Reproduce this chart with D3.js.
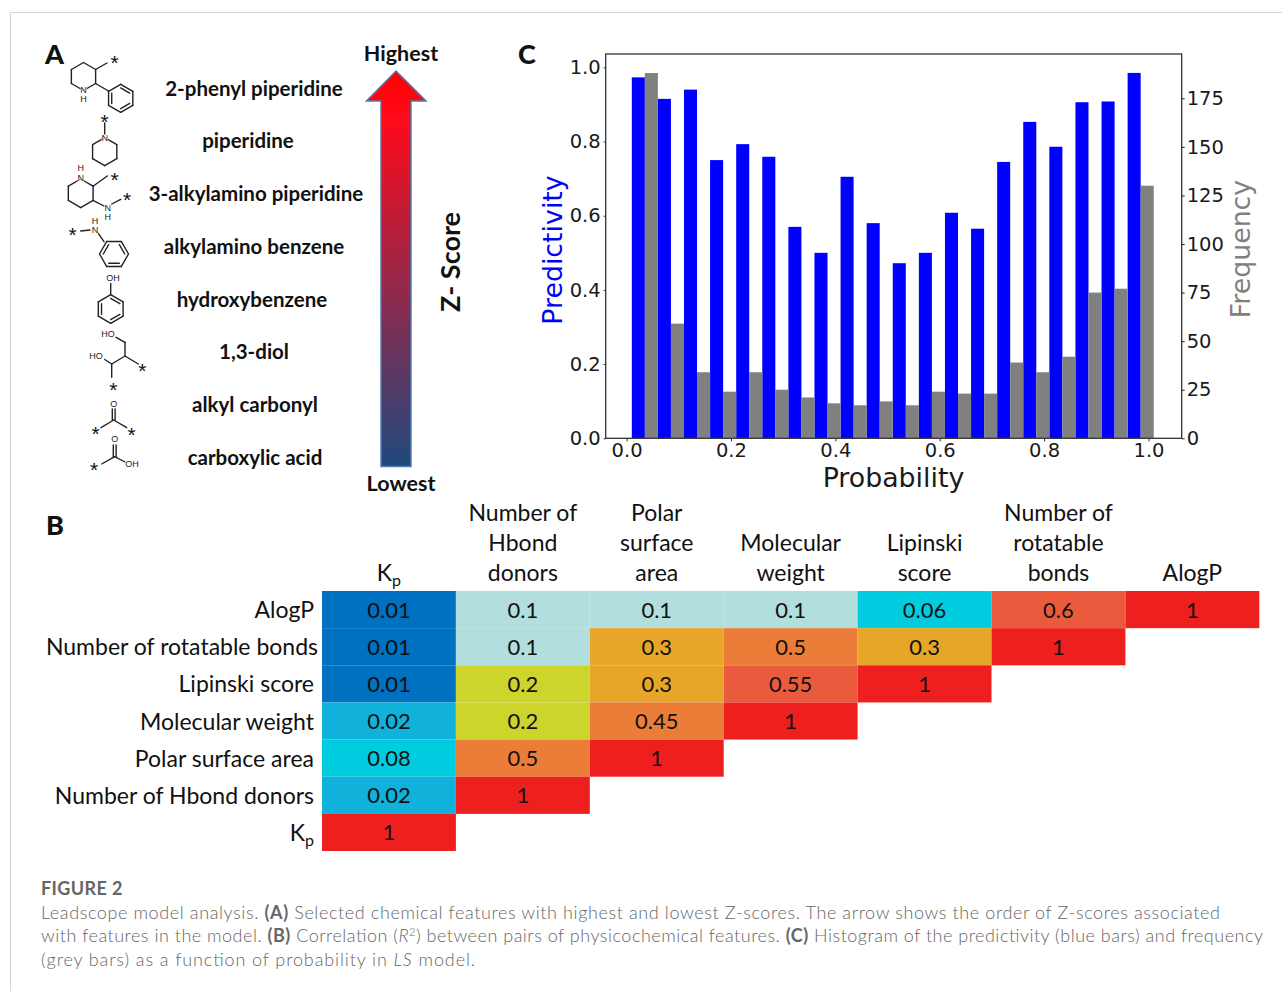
<!DOCTYPE html>
<html>
<head>
<meta charset="utf-8">
<script src="https://cdn.jsdelivr.net/npm/d3@7"></script>
<style>
  html, body { margin: 0; padding: 0; background: #fff; }
  svg { display: block; }
  .calibri { font-family: Lato, "Open Sans", sans-serif; fill: #111; }
  .mpl text { font-family: "DejaVu Sans", sans-serif; font-size: 19.5px; fill: #1a1a1a; }
  .mpl .domain { display: none; }
  .mpl line { stroke: #222; }
  .bond { fill: none; stroke: #222; stroke-width: 1.4; stroke-linecap: round; }
  .atom { font-family: "Liberation Sans", sans-serif; font-size: 9px; fill: #222; text-anchor: middle; dominant-baseline: central;
          paint-order: stroke; stroke: #fff; stroke-width: 1px; }
  .star { font-family: "Liberation Sans", sans-serif; font-size: 21px; fill: #111; text-anchor: middle; }
</style>
</head>
<body>
<script>
// ---- data ----

// panel A
var features = ["2-phenyl piperidine", "piperidine", "3-alkylamino piperidine", "alkylamino benzene",
    "hydroxybenzene", "1,3-diol", "alkyl carbonyl", "carboxylic acid"];
var featureShift = [0, -6, 2, 0, -2, 0, 1, 1];

// panel B, upper triangle, columns run Kp -> AlogP
var rowNames = ["AlogP", "Number of rotatable bonds", "Lipinski score", "Molecular weight",
    "Polar surface area", "Number of Hbond donors", "Kp"];
var colNames = [["Kp"], ["Number of", "Hbond", "donors"], ["Polar", "surface", "area"], ["Molecular", "weight"],
    ["Lipinski", "score"], ["Number of", "rotatable", "bonds"], ["AlogP"]];
var rowAlogP = ["0.01", "0.1", "0.1", "0.1", "0.06", "0.6", "1"];
var rowRotatable = ["0.01", "0.1", "0.3", "0.5", "0.3", "1"];
var rowLipinski = ["0.01", "0.2", "0.3", "0.55", "1"];
var rowWeight = ["0.02", "0.2", "0.45", "1"];
var rowPolar = ["0.08", "0.5", "1"];
var rowDonors = ["0.02", "1"];
var rowKp = ["1"];
var cellKeys = ["0.01", "0.02", "0.06", "0.08", "0.1", "0.2", "0.3", "0.45", "0.5", "0.55", "0.6", "1"];
var cellColors = ["#0070c0", "#10b2dc", "#00cce0", "#00cce0", "#b2dfde", "#cdd42c", "#e8a628", "#ec7d38", "#ec7d38", "#ea5b3d", "#ea5b3d", "#ee1f1f"];

// panel C
var binStart = [0.01, 0.06, 0.11, 0.16, 0.21, 0.26, 0.31, 0.36, 0.41, 0.46, 0.51, 0.56, 0.61, 0.66, 0.71, 0.76, 0.81, 0.86, 0.91, 0.96];
var predictivity = [0.973, 0.915, 0.94, 0.75, 0.793, 0.759, 0.57, 0.5, 0.705, 0.58, 0.472, 0.5, 0.608, 0.565, 0.745, 0.853, 0.786, 0.906, 0.908, 0.985];
var frequency = [188, 59, 34, 24, 34, 25, 21, 18, 17, 19, 17, 24, 23, 23, 39, 34, 42, 75, 77, 130];

var svg = d3.select("body").append("svg")
    .attr("width", 1282)
    .attr("height", 991);

// page frame
svg.append("path")
    .attr("d", "M10.5,991V12.5H1282")
    .attr("fill", "none")
    .attr("stroke", "#d4d4d4");

function panelLetter(t, x, y) {
    svg.append("text").attr("class", "calibri")
        .attr("x", x).attr("y", y)
        .attr("text-anchor", "middle")
        .style("font-size", "27px").style("font-weight", 900)
        .text(t);
}
panelLetter("A", 54.5, 64);
panelLetter("B", 55, 535);
panelLetter("C", 527, 64);

// ---- panel A ----

var featureY = d3.scalePoint().domain(features).range([87.5, 457]);

svg.selectAll(".feature")
    .data(features)
    .enter().append("text")
    .attr("class", "feature calibri")
    .attr("x", function(d, i) { return 254 + featureShift[i]; })
    .attr("y", function(d) { return featureY(d); })
    .attr("text-anchor", "middle")
    .attr("dominant-baseline", "central")
    .style("font-size", "20.5px")
    .style("font-weight", 700)
    .text(function(d) { return d; });

var grad = svg.append("defs").append("linearGradient")
    .attr("id", "zscore")
    .attr("x1", 0).attr("x2", 0).attr("y1", 0).attr("y2", 1);
grad.append("stop").attr("offset", "0%").attr("stop-color", "#ff0000");
grad.append("stop").attr("offset", "12%").attr("stop-color", "#ff0a1a");
grad.append("stop").attr("offset", "100%").attr("stop-color", "#1f497d");

svg.append("path")
    .attr("d", "M396,71L426,101H411V466.5H381V101H366.5Z")
    .attr("fill", "url(#zscore)")
    .attr("stroke", "#4f7cac")
    .attr("stroke-width", 1.5);

function arrowText(t, y) {
    svg.append("text").attr("class", "calibri")
        .attr("x", 401).attr("y", y)
        .attr("text-anchor", "middle").attr("dominant-baseline", "central")
        .style("font-size", "21.5px").style("font-weight", 700)
        .text(t);
}
arrowText("Highest", 53);
arrowText("Lowest", 483);

svg.append("text").attr("class", "calibri")
    .attr("transform", "translate(449,262) rotate(-90)")
    .attr("text-anchor", "middle").attr("dominant-baseline", "central")
    .style("font-size", "27px").style("font-weight", 700)
    .text("Z- Score");

// small structure drawings
var mol = svg.append("g").attr("class", "molecules");

function bond(x1, y1, x2, y2) {
    mol.append("line").attr("class", "bond")
        .attr("x1", x1).attr("y1", y1).attr("x2", x2).attr("y2", y2);
}
function atom(t, x, y) {
    mol.append("text").attr("class", "atom").attr("x", x).attr("y", y).text(t);
}
function star(x, y) {
    mol.append("text").attr("class", "star").attr("x", x).attr("y", y + 11).text("*");
}
// six sided ring, aromatic adds the three inner bonds
function ring(cx, cy, r, rot, aromatic) {
    var pts = d3.range(6).map(function(i) {
        var a = (i * 60 - 90 + rot) * Math.PI / 180;
        return [cx + r * Math.cos(a), cy + r * Math.sin(a)];
    });
    pts.forEach(function(p, i) {
        var q = pts[(i + 1) % 6];
        bond(p[0], p[1], q[0], q[1]);
        if (aromatic && i % 2 === 0) {
            var s = 0.74;
            bond(cx + (p[0] - cx) * s, cy + (p[1] - cy) * s, cx + (q[0] - cx) * s, cy + (q[1] - cy) * s);
        }
    });
}

// 2-phenyl piperidine
ring(83.5, 76.5, 14, 0, false);
atom("N", 83.5, 89.5); atom("H", 83.5, 99);
bond(95.6, 69.5, 107, 63); star(114.5, 59);
bond(95.6, 83.5, 108.5, 91);
ring(120.7, 98.3, 14, 0, true);

// piperidine
star(104.7, 117.5);
bond(104.7, 123, 104.7, 134);
ring(104.7, 151.7, 14, 0, false);
atom("N", 104.7, 137.5);

// 3-alkylamino piperidine
ring(80.7, 193.3, 14.3, 0, false);
atom("N", 80.7, 177.5); atom("H", 80.7, 168);
bond(93, 186.2, 107.3, 176); star(114.7, 175.5);
bond(93, 200.4, 104, 206);
atom("N", 107.7, 207.5); atom("H", 107.7, 217);
bond(111.7, 204, 120.7, 199.3); star(127, 196);

// alkylamino benzene
star(72.7, 231);
bond(80.7, 231, 90, 230);
bond(98.3, 233.3, 104, 241.7);
atom("N", 95, 230); atom("H", 95, 220.5);
ring(114, 254, 14.5, 30, true);

// hydroxybenzene
atom("OH", 113, 278);
bond(110.7, 283.5, 110.7, 294.5);
ring(110.7, 309, 14.3, 0, true);

// 1,3-diol
bond(116, 337.3, 125, 342.3);
bond(125, 342.3, 125, 356);
bond(125, 356, 138.3, 364); star(142.3, 367);
bond(125, 356, 111.7, 364);
bond(111.7, 364, 104.7, 359.5);
atom("HO", 108, 334);
atom("HO", 96, 356.3);
bond(111.7, 364, 111.7, 377.3); star(113.3, 386);

// alkyl carbonyl
atom("O", 113.7, 403.5);
bond(112.3, 409, 112.3, 420); bond(115.1, 409, 115.1, 420);
bond(113.7, 420, 101, 427.7); star(95.7, 430);
bond(113.7, 420, 126.7, 427.7); star(131.7, 431);

// carboxylic acid
atom("O", 114.7, 439);
bond(113.3, 445, 113.3, 457); bond(116.1, 445, 116.1, 457);
bond(114.7, 456.7, 101.7, 464); star(94, 466);
bond(114.7, 456.7, 125, 462);
atom("OH", 132, 463.5);

// ---- panel C ----

var cx = d3.scaleLinear().domain([-0.04, 1.0636]).range([605.7, 1181.7]);
var cyLeft = d3.scaleLinear().domain([0, 1.036]).range([438.3, 54]);
var cyRight = d3.scaleLinear().domain([0, 197.8]).range([438.3, 54]);
var barW = cx(0.025) - cx(0);

var bars = svg.append("g").attr("class", "bars");

bars.selectAll(".blue")
    .data(predictivity)
    .enter().append("rect")
    .attr("class", "blue")
    .attr("x", function(d, i) { return cx(binStart[i]); })
    .attr("y", function(d) { return cyLeft(d); })
    .attr("width", barW)
    .attr("height", function(d) { return cyLeft(0) - cyLeft(d); })
    .attr("fill", "#0000ff");

bars.selectAll(".grey")
    .data(frequency)
    .enter().append("rect")
    .attr("class", "grey")
    .attr("x", function(d, i) { return cx(binStart[i] + 0.025); })
    .attr("y", function(d) { return cyRight(d); })
    .attr("width", barW)
    .attr("height", function(d) { return cyRight(0) - cyRight(d); })
    .attr("fill", "#808080");

svg.append("g").attr("class", "mpl")
    .attr("transform", "translate(0,438.3)")
    .call(d3.axisBottom(cx).tickValues([0, 0.2, 0.4, 0.6, 0.8, 1]).tickFormat(d3.format(".1f")).tickSize(3).tickPadding(2));

svg.append("g").attr("class", "mpl")
    .attr("transform", "translate(605.7,0)")
    .call(d3.axisLeft(cyLeft).tickValues([0, 0.2, 0.4, 0.6, 0.8, 1]).tickFormat(d3.format(".1f")).tickSize(2).tickPadding(3));

svg.append("g").attr("class", "mpl")
    .attr("transform", "translate(1181.7,0)")
    .call(d3.axisRight(cyRight).tickValues([0, 25, 50, 75, 100, 125, 150, 175]).tickSize(3).tickPadding(2));

svg.append("rect")
    .attr("x", 605.7).attr("y", 54)
    .attr("width", 576).attr("height", 384.3)
    .attr("fill", "none")
    .attr("stroke", "#333")
    .attr("stroke-width", 1.3);

function dejavu(t, transform, color) {
    svg.append("text")
        .attr("transform", transform)
        .attr("text-anchor", "middle")
        .attr("dominant-baseline", "central")
        .style("font-family", "'DejaVu Sans', sans-serif")
        .style("font-size", "26.8px")
        .style("fill", color)
        .text(t);
}
dejavu("Probability", "translate(893.5,477)", "#1a1a1a");
dejavu("Predictivity", "translate(552,250) rotate(-90)", "#0000ff");
dejavu("Frequency", "translate(1240,249) rotate(-90)", "#808080");

// ---- panel B ----

var matrix = [rowAlogP, rowRotatable, rowLipinski, rowWeight, rowPolar, rowDonors, rowKp];
var colX = d3.scaleBand().domain(d3.range(colNames.length)).range([322, 1259.3]);
var rowY = d3.scaleBand().domain(rowNames).range([591, 851]);
var cellColor = d3.scaleOrdinal().domain(cellKeys).range(cellColors);

var rows = svg.selectAll(".row")
    .data(matrix)
    .enter().append("g")
    .attr("class", "row")
    .attr("transform", function(d, i) { return "translate(0," + rowY(rowNames[i]) + ")"; });

rows.selectAll("rect")
    .data(function(d) { return d; })
    .enter().append("rect")
    .attr("x", function(d, j) { return colX(j); })
    .attr("width", colX.bandwidth())
    .attr("height", rowY.bandwidth())
    .attr("fill", function(d) { return cellColor(d); });

rows.selectAll("text")
    .data(function(d) { return d; })
    .enter().append("text")
    .attr("class", "calibri")
    .attr("x", function(d, j) { return colX(j) + colX.bandwidth() / 2; })
    .attr("y", rowY.bandwidth() / 2 - 0.5)
    .attr("text-anchor", "middle")
    .attr("dominant-baseline", "central")
    .style("font-size", "22px")
    .text(function(d) { return d; });

// Kp needs a subscript p
function kpLabel(sel) {
    sel.append("tspan").text("K");
    sel.append("tspan").attr("dy", 7).style("font-size", "16px").text("p");
}

rowNames.forEach(function(name, i) {
    var t = svg.append("text").attr("class", "calibri")
        .attr("x", i === 1 ? 318 : 314)
        .attr("y", rowY(name) + rowY.bandwidth() / 2 - 0.5)
        .attr("text-anchor", "end")
        .attr("dominant-baseline", "central")
        .style("font-size", "23px");
    if (name === "Kp") kpLabel(t); else t.text(name);
});

colNames.forEach(function(lines, j) {
    lines.forEach(function(line, k) {
        var t = svg.append("text").attr("class", "calibri")
            .attr("x", colX(j) + colX.bandwidth() / 2)
            .attr("y", 572 - (lines.length - 1 - k) * 30)
            .attr("text-anchor", "middle")
            .attr("dominant-baseline", "central")
            .style("font-size", "23px");
        if (line === "Kp") kpLabel(t); else t.text(line);
    });
});

// ---- caption ----

var cap = svg.append("g")
    .style("font-family", "Lato, sans-serif")
    .style("font-size", "18px")
    .style("fill", "#666");

cap.append("text").attr("x", 41).attr("y", 894.5)
    .style("font-weight", 700)
    .style("letter-spacing", "0.4px")
    .text("FIGURE 2");

function captionLine(y, width, parts) {
    var t = cap.append("text").attr("x", 41).attr("y", y)
        .attr("textLength", width).attr("lengthAdjust", "spacing")
        .style("font-weight", 300);
    parts.forEach(function(p) {
        var s = t.append("tspan").text(p[0]);
        if (p[1] === "b") s.style("font-weight", 700);
        if (p[1] === "i") s.style("font-style", "italic");
        if (p[1] === "sup") s.attr("dy", -6).style("font-size", "11px");
        if (p[1] === "down") s.attr("dy", 6);
    });
}
captionLine(919, 1179, [["Leadscope model analysis. "], ["(A)", "b"],
    [" Selected chemical features with highest and lowest Z-scores. The arrow shows the order of Z-scores associated"]]);
captionLine(942, 1222, [["with features in the model. "], ["(B)", "b"], [" Correlation ("], ["R", "i"], ["2", "sup"],
    [") between pairs of physicochemical features. ", "down"], ["(C)", "b"],
    [" Histogram of the predictivity (blue bars) and frequency"]]);
captionLine(966, 434, [["(grey bars) as a function of probability in "], ["LS", "i"], [" model."]]);
</script>
</body>
</html>
